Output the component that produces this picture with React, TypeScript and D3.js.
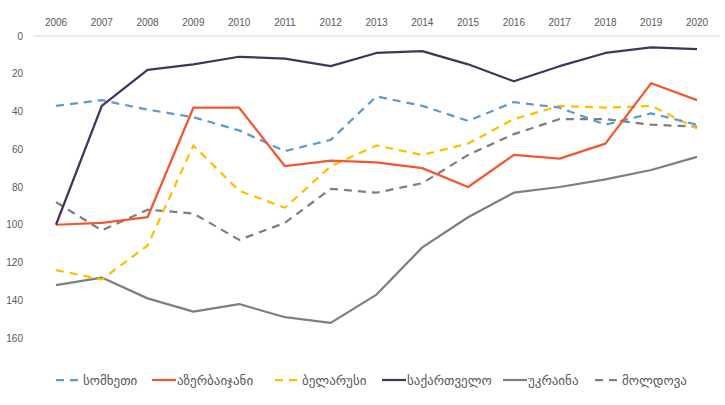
import { useEffect, useRef } from 'react';
import * as d3 from 'd3';

const years = [2006, 2007, 2008, 2009, 2010, 2011, 2012, 2013, 2014, 2015, 2016, 2017, 2018, 2019, 2020];
const yTicks = [0, 20, 40, 60, 80, 100, 120, 140, 160];

const armenia = [37, 34, 39, 43, 50, 61, 55, 32, 37, 45, 35, 38, 47, 41, 47];
const azerbaijan = [100, 99, 96, 38, 38, 69, 66, 67, 70, 80, 63, 65, 57, 25, 34];
const belarus = [124, 129, 111, 58, 82, 91, 69, 58, 63, 57, 44, 37, 38, 37, 49];
const georgia = [100, 37, 18, 15, 11, 12, 16, 9, 8, 15, 24, 16, 9, 6, 7];
const ukraine = [132, 128, 139, 146, 142, 149, 152, 137, 112, 96, 83, 80, 76, 71, 64];
const moldova = [88, 103, 92, 94, 108, 99, 81, 83, 78, 63, 52, 44, 44, 47, 48];

interface Series {
  name: string;
  values: number[];
  color: string;
  dashed: boolean;
}

const series: Series[] = [
  { name: 'სომხეთი', values: armenia, color: '#5B9BD5', dashed: true },
  { name: 'აზერბაიჯანი', values: azerbaijan, color: '#F4562F', dashed: false },
  { name: 'ბელარუსი', values: belarus, color: '#FFC000', dashed: true },
  { name: 'საქართველო', values: georgia, color: '#44335F', dashed: false },
  { name: 'უკრაინა', values: ukraine, color: '#7F7F7F', dashed: false },
  { name: 'მოლდოვა', values: moldova, color: '#7F7F7F', dashed: true }
];

// legend slot left edges
const legendX = [56, 152, 275, 382, 503, 595];

export default function App() {
  const svgRef = useRef<SVGSVGElement>(null);

  useEffect(() => {
    if (!svgRef.current) return;
    const svg = d3.select(svgRef.current);
    svg.selectAll('*').remove();

    const width = 725;
    const height = 405;
    const font = '"Liberation Sans", "DejaVu Sans", sans-serif';
    const textColor = '#595959';

    const x = d3.scalePoint<number>().domain(years).range([56, 697]);
    const y = d3.scaleLinear().domain([0, 160]).range([36, 338]);

    // top axis line
    svg
      .append('line')
      .attr('x1', 33)
      .attr('x2', 720)
      .attr('y1', y(0))
      .attr('y2', y(0))
      .attr('stroke', '#D9D9D9')
      .attr('stroke-width', 1);

    // year labels
    svg
      .append('g')
      .selectAll('text')
      .data(years)
      .enter()
      .append('text')
      .attr('x', (d) => x(d)!)
      .attr('y', 26)
      .attr('text-anchor', 'middle')
      .style('font-family', font)
      .style('font-size', '10px')
      .style('fill', textColor)
      .text((d) => d);

    // value labels
    svg
      .append('g')
      .selectAll('text')
      .data(yTicks)
      .enter()
      .append('text')
      .attr('x', 23)
      .attr('y', (d) => y(d))
      .attr('dy', '0.35em')
      .attr('text-anchor', 'end')
      .style('font-family', font)
      .style('font-size', '10px')
      .style('fill', textColor)
      .text((d) => d);

    const line = d3
      .line<number>()
      .x((_, i) => x(years[i])!)
      .y((d) => y(d));

    const drawOrder = [4, 5, 2, 0, 1, 3];
    svg
      .append('g')
      .selectAll('path')
      .data(drawOrder.map((i) => series[i]))
      .enter()
      .append('path')
      .attr('d', (d) => line(d.values))
      .attr('fill', 'none')
      .attr('stroke', (d) => d.color)
      .attr('stroke-width', 2.25)
      .attr('stroke-linejoin', 'round')
      .attr('stroke-dasharray', (d) => (d.dashed ? '8,6' : null));

    // legend
    const ly = 380;
    const items = svg
      .append('g')
      .selectAll('g')
      .data(series)
      .enter()
      .append('g')
      .attr('transform', (_, i) => `translate(${legendX[i]},0)`);

    items
      .append('line')
      .attr('x1', 0)
      .attr('x2', 24)
      .attr('y1', ly)
      .attr('y2', ly)
      .attr('stroke', (d) => d.color)
      .attr('stroke-width', 2.25)
      .attr('stroke-dasharray', (d) => (d.dashed ? '8,6' : null));

    items
      .append('text')
      .attr('x', (d) => (d.dashed ? 27 : 25))
      .attr('y', ly)
      .attr('dy', '0.35em')
      .style('font-family', font)
      .style('font-size', '13px')
      .style('fill', textColor)
      .text((d) => d.name);

    svg.attr('width', width).attr('height', height);
  }, []);

  return (
    <svg
      ref={svgRef}
      width={725}
      height={405}
      style={{ position: 'absolute', left: 0, top: 0, background: '#fff' }}
    ></svg>
  );
}
